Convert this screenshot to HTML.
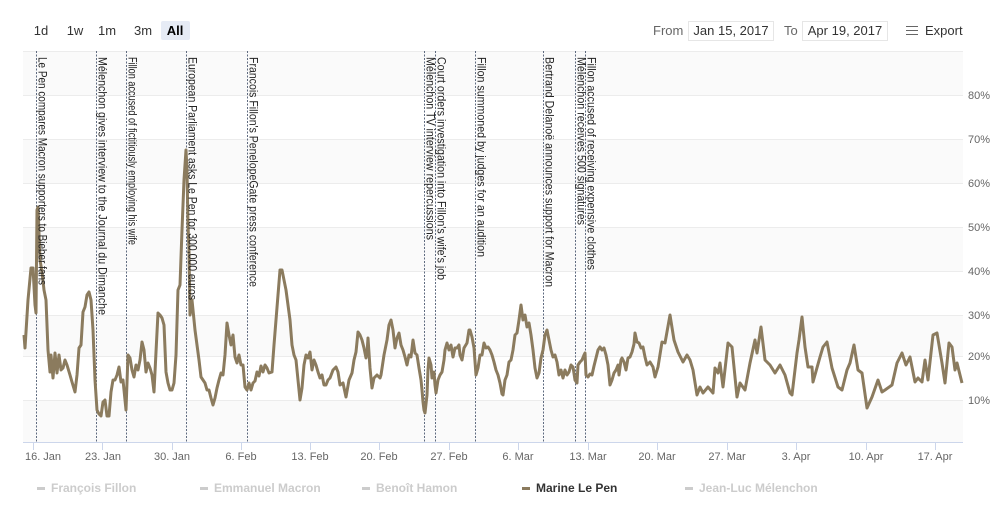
<!DOCTYPE html>
<html><head><meta charset="utf-8"><style>
body{margin:0;background:#fff;font-family:"Liberation Sans",sans-serif;}
svg{display:block}
</style></head><body>
<svg width="1000" height="513" xmlns="http://www.w3.org/2000/svg" font-family="Liberation Sans, sans-serif">
<rect width="1000" height="513" fill="#fff"/>
<g fill="#fafafa">
<rect x="23" y="51" width="940" height="44"/>
<rect x="23" y="139" width="940" height="44"/>
<rect x="23" y="227" width="940" height="44"/>
<rect x="23" y="315" width="940" height="41"/>
<rect x="23" y="400" width="940" height="42"/>
</g>
<g stroke="#ececec" stroke-width="1">
<line x1="23" x2="963" y1="51.5" y2="51.5"/>
<line x1="23" x2="963" y1="95.5" y2="95.5"/>
<line x1="23" x2="963" y1="139.5" y2="139.5"/>
<line x1="23" x2="963" y1="183.5" y2="183.5"/>
<line x1="23" x2="963" y1="227.5" y2="227.5"/>
<line x1="23" x2="963" y1="271.5" y2="271.5"/>
<line x1="23" x2="963" y1="315.5" y2="315.5"/>
<line x1="23" x2="963" y1="356.5" y2="356.5"/>
<line x1="23" x2="963" y1="400.5" y2="400.5"/>
</g>
<g font-size="11" fill="#666">
<text x="968" y="99">80%</text><text x="968" y="143">70%</text><text x="968" y="187">60%</text>
<text x="968" y="231">50%</text><text x="968" y="275">40%</text><text x="968" y="319">30%</text>
<text x="968" y="360">20%</text><text x="968" y="404">10%</text>
</g>
<line x1="23" x2="963" y1="442.5" y2="442.5" stroke="#ccd6eb"/>
<g stroke="#ccd6eb">
<line x1="33.5" x2="33.5" y1="442" y2="450"/><line x1="102.5" x2="102.5" y1="442" y2="450"/>
<line x1="172.5" x2="172.5" y1="442" y2="450"/><line x1="241.5" x2="241.5" y1="442" y2="450"/>
<line x1="310.5" x2="310.5" y1="442" y2="450"/><line x1="379.5" x2="379.5" y1="442" y2="450"/>
<line x1="449.5" x2="449.5" y1="442" y2="450"/><line x1="518.5" x2="518.5" y1="442" y2="450"/>
<line x1="588.5" x2="588.5" y1="442" y2="450"/><line x1="657.5" x2="657.5" y1="442" y2="450"/>
<line x1="727.5" x2="727.5" y1="442" y2="450"/><line x1="796.5" x2="796.5" y1="442" y2="450"/>
<line x1="866.5" x2="866.5" y1="442" y2="450"/><line x1="935.5" x2="935.5" y1="442" y2="450"/>
</g>
<g font-size="11" fill="#666" text-anchor="middle">
<text x="43" y="460">16. Jan</text><text x="103" y="460">23. Jan</text><text x="172" y="460">30. Jan</text>
<text x="241" y="460">6. Feb</text><text x="310" y="460">13. Feb</text><text x="379" y="460">20. Feb</text>
<text x="449" y="460">27. Feb</text><text x="518" y="460">6. Mar</text><text x="588" y="460">13. Mar</text>
<text x="657" y="460">20. Mar</text><text x="727" y="460">27. Mar</text><text x="796" y="460">3. Apr</text>
<text x="866" y="460">10. Apr</text><text x="935" y="460">17. Apr</text>
</g>
<g stroke="#5f6b80" stroke-width="1" stroke-dasharray="2,1.5">
<line x1="36.5" x2="36.5" y1="51" y2="442"/><line x1="96.5" x2="96.5" y1="51" y2="442"/>
<line x1="126.5" x2="126.5" y1="51" y2="442"/><line x1="186.5" x2="186.5" y1="51" y2="442"/>
<line x1="247.5" x2="247.5" y1="51" y2="442"/><line x1="424.5" x2="424.5" y1="51" y2="442"/>
<line x1="435.5" x2="435.5" y1="51" y2="442"/><line x1="475.5" x2="475.5" y1="51" y2="442"/>
<line x1="543.5" x2="543.5" y1="51" y2="442"/><line x1="575.5" x2="575.5" y1="51" y2="442"/>
<line x1="585.5" x2="585.5" y1="51" y2="442"/>
</g>
<polyline fill="none" stroke="#8b7b5e" stroke-width="3" stroke-linejoin="round" points="
24,335 25,348 28,300 31,268 33,268 35,305 36,313 37,210 38,207 40,260 42,272 44,290 46,300 48,350 50,372 51,355 53,378 55,353 57,373 59,355 61,370 63,368 65,360 67,365 70,375 72,382 75,392 77,375 79,348 81,345 83,312 85,307 87,295 89,292 91,300 93,330 95,380 97,410 99,414 101,416 103,402 105,400 107,416 109,416 111,392 113,380 115,380 117,375 119,367 121,382 123,380 126,410 128,355 130,358 132,370 134,377 136,365 138,370 140,360 142,342 144,350 146,372 148,363 150,368 152,375 154,392 156,352 158,313 160,315 162,318 164,325 166,372 168,383 170,390 172,390 174,383 176,355 178,290 180,285 182,230 184,180 186,150 187,170 188,225 189,250 190,315 192,300 193,310 195,330 197,345 199,360 201,377 203,380 205,383 207,390 209,390 211,398 213,405 215,398 217,388 219,380 221,373 223,375 225,355 227,323 229,335 231,345 233,335 235,357 237,363 239,355 241,365 243,365 245,387 247,390 249,383 251,390 253,383 255,381 257,372 259,376 261,366 263,372 265,365 267,368 269,373 272,372 274,345 276,320 278,295 280,270 282,270 284,280 286,290 288,305 290,320 292,345 294,355 296,360 298,380 300,400 302,388 304,365 306,355 308,358 310,352 312,370 314,360 316,365 318,372 320,378 322,375 324,385 326,385 328,380 330,378 333,370 336,367 338,372 340,385 343,383 346,397 349,380 352,373 354,360 356,352 358,332 360,335 362,340 364,348 366,358 367,353 368,338 370,368 372,388 374,378 377,375 380,378 381,375 384,355 387,340 389,325 391,320 393,330 395,348 397,338 399,333 401,345 403,350 405,357 407,365 409,355 411,357 413,340 415,353 417,355 419,368 421,380 422,390 423,402 424,410 425,413 427,395 428,370 429,358 431,365 432,378 434,372 435,385 436,393 438,380 440,375 442,372 444,360 445,350 447,343 449,350 451,345 453,357 455,348 457,348 459,345 460,355 462,360 464,348 467,343 469,330 470,330 472,337 474,348 476,375 478,368 480,355 482,355 484,343 486,348 488,347 490,350 492,355 494,362 496,370 498,375 500,383 502,394 503,395 505,380 507,375 509,362 511,360 513,350 515,335 517,333 519,320 521,305 523,320 525,315 527,327 529,323 531,335 533,350 535,368 537,378 539,373 541,358 543,350 545,335 547,330 549,340 551,350 553,357 555,355 557,362 559,375 561,370 563,378 565,370 567,375 569,372 571,365 573,367 575,380 577,383 578,365 580,362 582,360 584,355 585,353 586,375 588,377 590,374 592,375 594,366 596,358 598,350 600,347 602,350 604,348 606,355 608,365 610,385 612,380 614,373 616,370 618,365 619,375 621,360 622,358 624,362 626,370 628,358 630,357 632,352 634,344 635,333 637,342 639,343 641,348 643,347 645,357 647,365 650,362 653,367 655,377 658,367 662,342 665,343 670,315 674,340 678,352 683,362 687,355 690,360 693,370 697,395 700,387 703,393 708,387 713,393 715,368 718,373 720,363 723,387 728,343 732,347 737,397 740,383 745,390 750,363 755,340 757,353 761,327 765,360 770,365 775,373 780,365 785,375 790,393 792,395 797,353 799,340 802,317 805,347 808,367 812,367 813,382 820,357 823,347 827,342 832,368 838,387 842,390 847,370 850,363 854,345 858,370 862,373 867,408 872,397 878,380 882,392 885,390 892,385 897,363 902,353 906,365 910,357 915,382 918,378 922,382 925,360 928,380 933,335 937,333 942,363 945,383 949,343 952,347 955,370 957,363 962,383"/>
<g font-size="12" fill="#222">
<text transform="translate(38.5,57) rotate(90)" textLength="228" lengthAdjust="spacingAndGlyphs">Le Pen compares Macron supporters to Bieber fans</text>
<text transform="translate(98.5,57) rotate(90)" textLength="258" lengthAdjust="spacingAndGlyphs">Mélenchon gives interview to the Journal du Dimanche</text>
<text transform="translate(128.5,57) rotate(90)" textLength="188" lengthAdjust="spacingAndGlyphs">Fillon accused of fictitiously employing his wife</text>
<text transform="translate(188.5,57) rotate(90)" textLength="243" lengthAdjust="spacingAndGlyphs">European Parliament asks Le Pen for 300,000 euros</text>
<text transform="translate(249.5,57) rotate(90)" textLength="230" lengthAdjust="spacingAndGlyphs">Francois Fillon's PenelopeGate press conference</text>
<text transform="translate(426.5,57) rotate(90)" textLength="183" lengthAdjust="spacingAndGlyphs">Mélenchon TV interview repercussions</text>
<text transform="translate(437.5,57) rotate(90)" textLength="223" lengthAdjust="spacingAndGlyphs">Court orders investigation into Fillon's wife's job</text>
<text transform="translate(477.5,57) rotate(90)" textLength="200" lengthAdjust="spacingAndGlyphs">Fillon summoned by judges for an audition</text>
<text transform="translate(545.5,57) rotate(90)" textLength="230" lengthAdjust="spacingAndGlyphs">Bertrand Delanoë announces support for Macron</text>
<text transform="translate(577.5,57) rotate(90)" textLength="168" lengthAdjust="spacingAndGlyphs">Mélenchon receives 500 signatures</text>
<text transform="translate(587.5,57) rotate(90)" textLength="213" lengthAdjust="spacingAndGlyphs">Fillon accused of receiving expensive clothes</text>
</g>
<rect x="161" y="21" width="29" height="19" rx="2" fill="#e6ebf5"/>
<g font-size="13" fill="#333">
<text x="41" y="35" text-anchor="middle">1d</text><text x="75" y="35" text-anchor="middle">1w</text>
<text x="107" y="35" text-anchor="middle">1m</text><text x="143" y="35" text-anchor="middle">3m</text>
<text x="175" y="35" text-anchor="middle" font-weight="bold" fill="#000">All</text>
<text x="653" y="35" fill="#666">From</text>
<text x="784" y="35" fill="#666">To</text>
<text x="925" y="35">Export</text>
</g>
<rect x="688.5" y="21.5" width="85" height="19" fill="#fff" stroke="#e6e6e6"/>
<rect x="802.5" y="21.5" width="85" height="19" fill="#fff" stroke="#e6e6e6"/>
<g font-size="13" fill="#333" text-anchor="middle">
<text x="731" y="35">Jan 15, 2017</text><text x="845" y="35">Apr 19, 2017</text>
</g>
<g stroke="#666" stroke-width="1"><line x1="906" x2="918" y1="26.5" y2="26.5"/><line x1="906" x2="918" y1="30.5" y2="30.5"/><line x1="906" x2="918" y1="34.5" y2="34.5"/></g>
<g font-size="12" font-weight="bold" fill="#ccc">
<rect x="37" y="487" width="8" height="3" fill="#ccc"/><text x="51" y="492">François Fillon</text>
<rect x="200" y="487" width="8" height="3" fill="#ccc"/><text x="214" y="492">Emmanuel Macron</text>
<rect x="362" y="487" width="8" height="3" fill="#ccc"/><text x="376" y="492">Benoît Hamon</text>
<rect x="522" y="487" width="8" height="3" fill="#8b7b5e"/><text x="536" y="492" fill="#333">Marine Le Pen</text>
<rect x="685" y="487" width="8" height="3" fill="#ccc"/><text x="699" y="492">Jean-Luc Mélenchon</text>
</g>
</svg>
</body></html>
